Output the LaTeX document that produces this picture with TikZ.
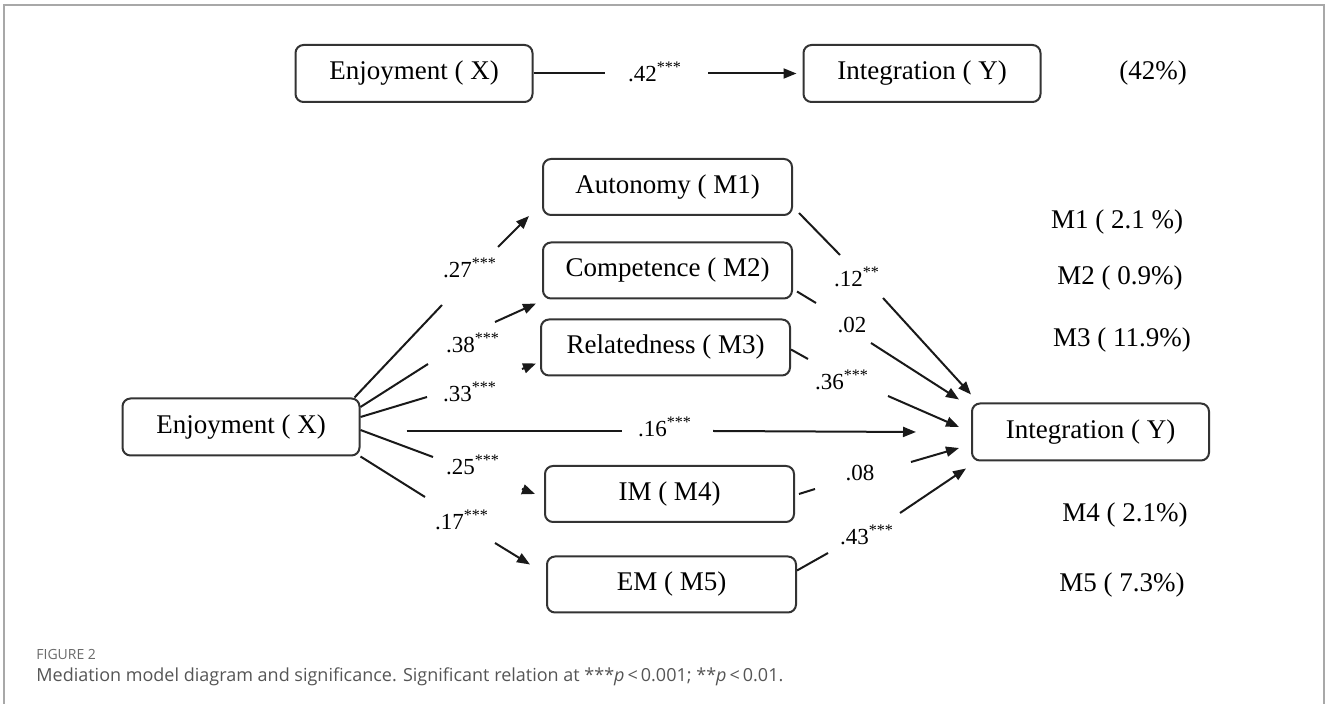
\documentclass[tikz,border=0pt]{standalone}
\usepackage{fontspec}
\setmainfont{Liberation Serif}
\newfontfamily\capfont{Open Sans}
\usetikzlibrary{arrows.meta}
\definecolor{framegray}{HTML}{A8A8A8}
\definecolor{capgray}{HTML}{555555}
\definecolor{figgray}{HTML}{6A6A6A}
\definecolor{boxline}{HTML}{333333}
\begin{document}
\begin{tikzpicture}[x=0.5pt,y=-0.5pt,
  box/.style={draw=boxline, line width=1pt, rounded corners=4pt, minimum width=124.5pt,
    minimum height=28pt, inner sep=0pt, font=\fontsize{13.5}{15}\selectfont},
  endbox/.style={box, minimum width=118.5pt, minimum height=28.5pt},
  coef/.style={inner sep=0pt, font=\fontsize{11.5}{13}\selectfont},
  pct/.style={inner sep=0pt, font=\fontsize{13.5}{15}\selectfont},
  conn/.style={line width=1pt, black!90},
  arr/.style={line width=1pt, black!90, -{Triangle[length=6.5pt,width=5pt]}}]
\useasboundingbox (0,0) rectangle (1328,704);
% frame
\draw[framegray, line width=0.8pt] (4,704) -- (4,5) -- (1324,5) -- (1324,704);

% top model
\node[endbox] (X0) at (414,73.5) {Enjoyment ( X)};
\node[endbox] (Y0) at (922,73.5) {Integration ( Y)};
\node[coef] (l0) at (655,72) {.42\textsuperscript{***}};
\node[pct] (p0) at (1153,73) {(42\%)};
\coordinate (g0a) at (605,73.5);
\coordinate (g0b) at (708,73.5);
\draw[conn] (X0.east) -- (g0a);
\draw[arr] (g0b) -- ([xshift=-3pt]Y0.west);

% mediation model nodes
\node[endbox] (X) at (241,427) {Enjoyment ( X)};
\node[endbox] (Y) at (1090.5,432) {Integration ( Y)};
\node[box] (M1) at (667.5,187) {Autonomy ( M1)};
\node[box] (M2) at (667.5,270.5) {Competence ( M2)};
\node[box] (M3) at (665.5,347.5) {Relatedness ( M3)};
\node[box] (M4) at (669.5,494) {IM ( M4)};
\node[box] (M5) at (671.5,584.5) {EM ( M5)};

% right percentages
\node[pct] (p1) at (1117,222) {M1 ( 2.1 \%)};
\node[pct] (p2) at (1120,278) {M2 ( 0.9\%)};
\node[pct] (p3) at (1122,340) {M3 ( 11.9\%)};
\node[pct] (p4) at (1125,515) {M4 ( 2.1\%)};
\node[pct] (p5) at (1122,585) {M5 ( 7.3\%)};

% coefficient labels
\node[coef] (l1) at (470,268) {.27\textsuperscript{***}};
\node[coef] (l2) at (473,343) {.38\textsuperscript{***}};
\node[coef] (l3) at (470,392) {.33\textsuperscript{***}};
\node[coef] (l4) at (473,465) {.25\textsuperscript{***}};
\node[coef] (l5) at (462,520) {.17\textsuperscript{***}};
\node[coef] (l6) at (665,427) {.16\textsuperscript{***}};
\node[coef] (l7) at (857,277) {.12\textsuperscript{**}};
\node[coef] (l8) at (852,325) {.02};
\node[coef] (l9) at (842,380) {.36\textsuperscript{***}};
\node[coef] (l10) at (860,473) {.08};
\node[coef] (l11) at (867,535) {.43\textsuperscript{***}};

% break points
\coordinate (g1a) at (442,305);  \coordinate (g1b) at (498,247);
\coordinate (g2a) at (428,364);  \coordinate (g2b) at (495,322);
\coordinate (g3a) at (427,397);  \coordinate (g3b) at (522,369);
\coordinate (g4a) at (433,457);  \coordinate (g4b) at (522,489);
\coordinate (g5a) at (425,497);  \coordinate (g5b) at (495,543);
\coordinate (g6a) at (622,431);  \coordinate (g6b) at (713,431);
\coordinate (g7a) at (840,255);  \coordinate (g7b) at (883,298);
\coordinate (g8a) at (816,303);  \coordinate (g8b) at (871,343);
\coordinate (g9a) at (808,359);  \coordinate (g9b) at (888,396);
\coordinate (g10a) at (815,489); \coordinate (g10b) at (911,462);
\coordinate (g11a) at (828,553); \coordinate (g11b) at (900,513);

% X -> mediators
\draw[conn] ([xshift=-3pt]X.north east) -- (g1a);
\draw[arr] (g1b) -- ([xshift=-6.5pt]M1.south west);
\draw[conn] ([yshift=10pt]X.east) -- (g2a);
\draw[arr] (g2b) -- ([xshift=-3pt,yshift=-2pt]M2.south west);
\draw[conn] ([yshift=5pt]X.east) -- (g3a);
\draw[arr] (g3b) -- ([xshift=-2pt,yshift=-8pt]M3.west);
\draw[conn] ([yshift=-1.5pt]X.east) -- (g4a);
\draw[arr] (g4b) -- ([xshift=-4.5pt]M4.west);
\draw[conn] (X.south east) -- (g5a);
\draw[arr] (g5b) -- ([xshift=-8pt,yshift=-4.5pt]M5.north west);

% direct effect
\draw[conn] ([xshift=23pt,yshift=-2pt]X.east) -- (g6a);
\draw[arr] (g6b) -- ([xshift=-27.5pt]Y.west);

% mediators -> Y
\draw[conn] ([xshift=3pt,yshift=1.5pt]M1.south east) -- (g7a);
\draw[arr] (g7b) -- ([yshift=4pt]Y.north west);
\draw[conn] ([xshift=2pt,yshift=4pt]M2.south east) -- (g8a);
\draw[arr] (g8b) -- ([xshift=-6pt,yshift=1.5pt]Y.north west);
\draw[conn] ([yshift=-1pt]M3.east) -- (g9a);
\draw[arr] (g9b) -- ([xshift=-6pt,yshift=2.5pt]Y.west);
\draw[conn] ([xshift=2pt]M4.east) -- (g10a);
\draw[arr] (g10b) -- ([xshift=-6pt,yshift=-8pt]Y.west);
\draw[conn] ([yshift=7pt]M5.east) -- (g11a);
\draw[arr] (g11b) -- ([xshift=-2.5pt,yshift=-3.5pt]Y.south west);

% caption
\node[anchor=west, inner sep=0pt, text=figgray, font=\capfont\fontsize{7}{8}\selectfont] (fig) at (36,655) {FIGURE 2};
\node[anchor=west, inner sep=0pt, text=capgray, font=\capfont\fontsize{9}{10}\selectfont] (cap) at (36,677)
  {Mediation model diagram and significance. Significant relation at ***\textit{p}\,<\,0.001; **\textit{p}\,<\,0.01.};
\end{tikzpicture}
\end{document}
